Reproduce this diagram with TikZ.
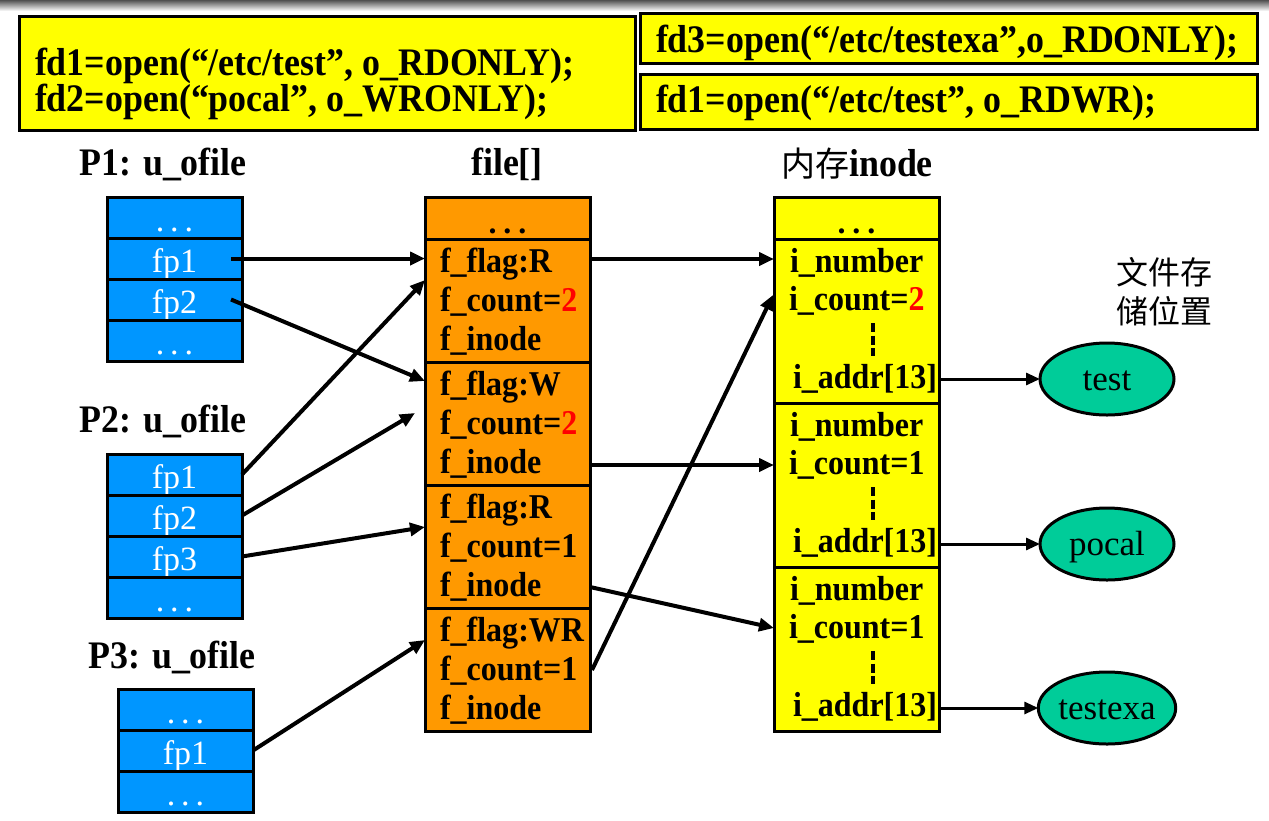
\documentclass[tikz,border=0pt]{standalone}
\usepackage{fontspec}
\setmainfont{Liberation Serif}
\newfontfamily\tallserif[FakeStretch=0.92]{Liberation Serif}
\newfontfamily\cjkfont{Noto Sans CJK SC}
\usetikzlibrary{arrows.meta,calc,shapes.geometric}
\definecolor{cyel}{RGB}{255,255,0}
\definecolor{corange}{RGB}{255,153,0}
\definecolor{cblue}{RGB}{0,150,255}
\definecolor{cgreen}{RGB}{0,204,153}
\definecolor{cred}{RGB}{255,0,0}
\definecolor{cbar}{RGB}{80,80,80}
\newcommand\dotrow[1]{.\kern#1.\kern#1.}
\begin{document}
\begin{tikzpicture}[x=1pt,y=-1pt,
 every node/.style={inner sep=0pt, outer sep=0pt},
 bordered/.style={draw=black, line width=3pt},
 topbox/.style={bordered, fill=cyel, anchor=north west},
 codetxt/.style={anchor=base west, font=\tallserif\fontsize{39pt}{39pt}\selectfont\bfseries},
 headtxt/.style={anchor=base, font=\tallserif\fontsize{39pt}{39pt}\selectfont\bfseries},
 bluecell/.style={bordered, fill=cblue, anchor=north west, minimum width=135pt, minimum height=41pt, text height=34pt, text depth=7pt, text=white, font=\fontsize{34pt}{34pt}\selectfont},
 ocell/.style={bordered, fill=corange, anchor=north west, minimum width=165pt},
 ycell/.style={bordered, fill=cyel, anchor=north west, minimum width=165pt},
 dotcell/.style={text height=36pt, text depth=6pt, minimum height=42pt, font=\fontsize{32pt}{32pt}\selectfont\bfseries},
 ftxt/.style={anchor=base west, font=\tallserif\fontsize{34.8pt}{34.8pt}\selectfont\bfseries},
 filenode/.style={ellipse, draw=black, line width=3pt, fill=cgreen, minimum width=134pt, minimum height=72pt, text height=22pt, text depth=0pt, font=\fontsize{35pt}{35pt}\selectfont},
 arr/.style={line width=4pt, -{Triangle[length=15pt,width=13pt]}},
 arrthin/.style={line width=3pt, -{Triangle[length=14pt,width=12pt]}},
 cjktxt/.style={font=\fontsize{32pt}{32pt}\selectfont\cjkfont},
 vdash/.style={line width=4.5pt, dash pattern=on 9pt off 3.5pt}
]
\useasboundingbox (0,0) rectangle (1269,820);
\fill[white] (0,0) rectangle (1269,820);
\shade[top color=cbar, bottom color=white] (0,0) rectangle (1269,11);

% code boxes
\node[topbox, minimum width=616pt, minimum height=114pt] (codeA) at (19,16) {};
\node[codetxt] (codeA1) at (35,75) {fd1=open(“/etc/test”, o\_RDONLY);};
\node[codetxt] (codeA2) at (35,111) {fd2=open(“pocal”, o\_WRONLY);};
\node[topbox, minimum width=617pt, minimum height=50pt] (codeB) at (640,13) {};
\node[codetxt] (codeB1) at (656,52) {fd3=open(“/etc/testexa”,o\_RDONLY);};
\node[topbox, minimum width=617pt, minimum height=55pt] (codeC) at (640,74) {};
\node[codetxt] (codeC1) at (656,112) {fd1=open(“/etc/test”, o\_RDWR);};

% headers
\node[headtxt] (h1) at (163,175) {P1: u\_ofile};
\node[headtxt] (h2) at (507,175) {file[]};
\node[headtxt] (h3) at (857,176) {{\cjkfont\mdseries\fontsize{34pt}{34pt}\selectfont 内存}inode};
\node[headtxt] (h4) at (163,432) {P2: u\_ofile};
\node[headtxt] (h5) at (172,668) {P3: u\_ofile};

% P1
\node[bluecell] (p1a) at (107,197) {\dotrow{6pt}};
\node[bluecell] (p1b) at (107,238) {fp1};
\node[bluecell] (p1c) at (107,279) {fp2};
\node[bluecell] (p1d) at (107,320) {\dotrow{6pt}};
% P2
\node[bluecell] (p2a) at (107,454) {fp1};
\node[bluecell] (p2b) at (107,495) {fp2};
\node[bluecell] (p2c) at (107,536) {fp3};
\node[bluecell] (p2d) at (107,577) {\dotrow{6pt}};
% P3
\node[bluecell] (p3a) at (118,689) {\dotrow{6pt}};
\node[bluecell] (p3b) at (118,730) {fp1};
\node[bluecell] (p3c) at (118,771) {\dotrow{6pt}};

% file[]
\node[ocell, dotcell] (oh) at (425,197) {\dotrow{7pt}};
\node[ocell, minimum height=123pt] (ob1) at (425,239) {};
\node[ocell, minimum height=123pt] (ob2) at (425,362) {};
\node[ocell, minimum height=123pt] (ob3) at (425,485) {};
\node[ocell, minimum height=123pt] (ob4) at (425,608) {};
\node[ftxt] (o1a) at (440,272) {f\_flag:R};
\node[ftxt] (o1b) at (440,311) {f\_count=\textcolor{cred}{2}};
\node[ftxt] (o1c) at (440,350) {f\_inode};
\node[ftxt] (o2a) at (440,395) {f\_flag:W};
\node[ftxt] (o2b) at (440,434) {f\_count=\textcolor{cred}{2}};
\node[ftxt] (o2c) at (440,473) {f\_inode};
\node[ftxt] (o3a) at (440,518) {f\_flag:R};
\node[ftxt] (o3b) at (440,557) {f\_count=1};
\node[ftxt] (o3c) at (440,596) {f\_inode};
\node[ftxt] (o4a) at (440,641) {f\_flag:WR};
\node[ftxt] (o4b) at (440,680) {f\_count=1};
\node[ftxt] (o4c) at (440,719) {f\_inode};

% inode
\node[ycell, dotcell] (yh) at (774,197) {\dotrow{7pt}};
\node[ycell, minimum height=164pt] (yb1) at (774,239) {};
\node[ycell, minimum height=164pt] (yb2) at (774,403) {};
\node[ycell, minimum height=164pt] (yb3) at (774,567) {};
\node[ftxt] (i1a) at (790,272) {i\_number};
\node[ftxt] (i1b) at (789,310) {i\_count=\textcolor{cred}{2}};
\node[ftxt] (i1c) at (793,388) {i\_addr[13]};
\node[ftxt] (i2a) at (790,436) {i\_number};
\node[ftxt] (i2b) at (789,474) {i\_count=1};
\node[ftxt] (i2c) at (793,552) {i\_addr[13]};
\node[ftxt] (i3a) at (790,600) {i\_number};
\node[ftxt] (i3b) at (789,638) {i\_count=1};
\node[ftxt] (i3c) at (793,716) {i\_addr[13]};
\draw[vdash] ($(yb1.north west)+(99,84)$) -- ++(0,33);
\draw[vdash] ($(yb2.north west)+(99,84)$) -- ++(0,33);
\draw[vdash] ($(yb3.north west)+(99,84)$) -- ++(0,33);

% files
\node[cjktxt] (loc1) at (1164,272) {文件存};
\node[cjktxt] (loc2) at (1164,311) {储位置};
\node[filenode] (f1) at (1107,379) {test};
\node[filenode] (f2) at (1107,544) {pocal};
\node[filenode] (f3) at (1107,708) {testexa};

% arrows u_ofile -> file[]
\draw[arr] ($(p1b.east)+(-11,0)$) -- (p1b.east -| ob1.west);
\draw[arr] ($(p1c.east)+(-11,0)$) -- ($(ob2.north west)+(0,19)$);
\draw[arr] (p2a.east) -- ($(ob1.north west)+(0,41)$);
\draw[arr] (p2b.east) -- ($(ob2.north west)+(-10,51)$);
\draw[arr] (p2c.east) -- ($(ob3.north west)+(0,42)$);
\draw[arr] (p3b.east) -- ($(ob4.north west)+(0,32)$);
% file[] -> inode
\draw[arr] ($(ob1.north east)+(0,20)$) -- ($(yb1.north west)+(0,20)$);
\draw[arr] ($(ob2.north east)+(0,103)$) -- ($(yb2.north west)+(0,62)$);
\draw[arr] ($(ob3.north east)+(0,102)$) -- ($(yb3.north west)+(0,61)$);
\draw[arr] ($(ob4.north east)+(2,62)$) -- ($(yb1.north west)+(-1,56)$);
% inode -> files
\draw[arrthin] (yb1.east |- f1.west) -- (f1.west);
\draw[arrthin] (yb2.east |- f2.west) -- (f2.west);
\draw[arrthin] (yb3.east |- f3.west) -- (f3.west);
\end{tikzpicture}
\end{document}
